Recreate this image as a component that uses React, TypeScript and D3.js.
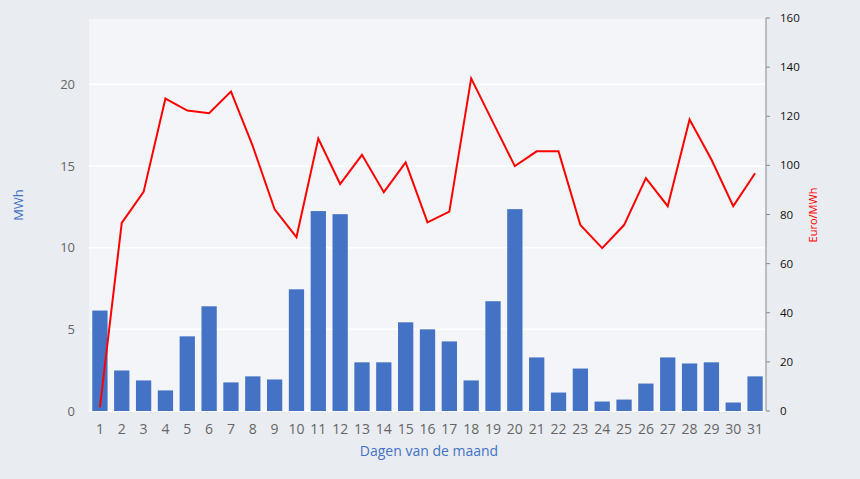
import React from 'react';
import * as d3 from 'd3';

// dagen van de maand
const days = d3.range(1, 32).map(String);
// opgewekte energie in MWh
const mwh = [6.15, 2.48, 1.87, 1.26, 4.57, 6.41, 1.75, 2.12, 1.93, 7.45, 12.24, 12.05, 2.98, 2.98, 5.43, 5.0,
  4.26, 1.87, 6.72, 12.36, 3.28, 1.13, 2.6, 0.58, 0.7, 1.68, 3.28, 2.91, 2.98, 0.52, 2.12];
// prijs in Euro/MWh
const price = [1.5, 76.6, 89.2, 127.2, 122.3, 121.2, 130.1, 107.8, 82.1, 70.8, 110.9, 92.4, 104.3, 89.1, 101.2, 76.8,
  81.2, 135.4, 117.5, 99.7, 105.7, 105.7, 75.7, 66.3, 75.7, 94.8, 83.4, 118.7, 102.4, 83.4, 96.8];
const leftTicks = [0, 5, 10, 15, 20];
const rightTicks = [0, 20, 40, 60, 80, 100, 120, 140, 160];

const W = 860, H = 479;
const left = 89, right = 766, top = 19, bottom = 411;

export default function App() {
  const x = d3.scaleBand().domain(days).range([left, right]).paddingInner(0.3).paddingOuter(0.15);
  const yL = d3.scaleLinear().domain([0, 24]).range([bottom, top]);
  const yR = d3.scaleLinear().domain([0, 160]).range([bottom, 18]);
  const line = d3.line<number>()
    .x((_, i) => x(days[i])! + x.bandwidth() / 2)
    .y(d => yR(d));
  const font = "'Open Sans', 'Noto Sans', sans-serif";

  return (
    <svg width={W} height={H} style={{ position: 'absolute', left: 0, top: 0, fontFamily: font }}>
      <rect width={W} height={H} fill="#e9ecf1" />
      <rect x={left} y={top} width={right - left} height={bottom - top} fill="#f4f5f9" />
      {leftTicks.map(t => (
        <g key={t}>
          <line x1={left} x2={right} y1={yL(t)} y2={yL(t)} stroke="#ffffff" strokeWidth={1.5} />
          <text x={75} y={yL(t)} dy="0.35em" textAnchor="end" fontSize={13} fill="#666">{t}</text>
        </g>
      ))}
      {mwh.map((v, i) => (
        <rect key={i} x={x(days[i])} y={yL(v)} width={x.bandwidth()} height={bottom - yL(v)} fill="#4472c4" />
      ))}
      <path d={line(price)!} fill="none" stroke="#ff0000" strokeWidth={2} strokeLinejoin="miter" />
      {days.map(d => (
        <text key={d} x={x(d)! + x.bandwidth() / 2} y={429} dy="0.35em" textAnchor="middle" fontSize={14} fill="#666">{d}</text>
      ))}
      <line x1={right} x2={right} y1={18} y2={bottom} stroke="#888" />
      {rightTicks.map(t => (
        <g key={t}>
          <line x1={right} x2={right + 4} y1={yR(t)} y2={yR(t)} stroke="#888" />
          <text x={780} y={yR(t)} dy="0.35em" fontSize={11.5} fill="#111">{t}</text>
        </g>
      ))}
      <text x={429} y={451} dy="0.35em" textAnchor="middle" fontSize={14} fill="#4472c4">Dagen van de maand</text>
      <text transform="translate(18,205) rotate(-90)" dy="0.35em" textAnchor="middle" fontSize={13} fill="#4472c4">MWh</text>
      <text transform="translate(813,215) rotate(-90)" dy="0.35em" textAnchor="middle" fontSize={11} fill="#ff0000">Euro/MWh</text>
    </svg>
  );
}
